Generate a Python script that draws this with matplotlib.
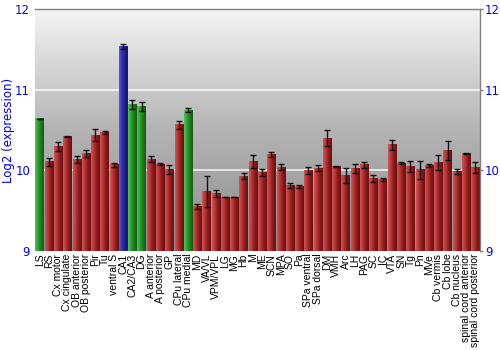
import numpy as np
import matplotlib
matplotlib.use("Agg")
import matplotlib.pyplot as plt
from matplotlib.colors import LinearSegmentedColormap

regions = ["LS", "RS", "Cx motor", "Cx cingulate", "OB anterior", "OB posterior",
           "Pir", "Tu", "ventral S", "CA1", "CA2/CA3", "DG", "A anterior",
           "A posterior", "GP", "CPu lateral", "CPu medial", "MD", "VA/VL",
           "VPM/VPL", "LG", "MG", "Hb", "M", "ME", "SCN", "MPA", "SO", "Pa",
           "SPa ventral", "SPa dorsal", "DM", "VMH", "Arc", "LH", "PAG", "SC",
           "IC", "VTA", "SN", "Tg", "Pn", "MVe", "Cb vermis", "Cb lobe",
           "Cb nucleus", "spinal cord anterior", "spinal cord posterior"]
values = [10.64, 10.11, 10.30, 10.42, 10.14, 10.21, 10.44, 10.47, 10.07,
          11.54, 10.82, 10.79, 10.14, 10.08, 10.01, 10.57, 10.75, 9.55,
          9.74, 9.71, 9.67, 9.67, 9.93, 10.11, 9.97, 10.20, 10.04, 9.81,
          9.80, 10.00, 10.03, 10.40, 10.05, 9.94, 10.02, 10.07, 9.90,
          9.89, 10.32, 10.09, 10.05, 10.01, 10.06, 10.10, 10.25, 9.99,
          10.21, 10.04]
errors = [0.005, 0.05, 0.055, 0.01, 0.045, 0.045, 0.075, 0.015, 0.025,
          0.035, 0.06, 0.055, 0.04, 0.017, 0.06, 0.05, 0.03, 0.035,
          0.19, 0.045, 0.005, 0.005, 0.037, 0.08, 0.045, 0.03, 0.037, 0.03,
          0.022, 0.04, 0.035, 0.1, 0.005, 0.09, 0.055, 0.04, 0.047,
          0.017, 0.06, 0.012, 0.072, 0.11, 0.02, 0.095, 0.115, 0.03,
          0.005, 0.066]
groups = ["g", "r", "r", "r", "r", "r", "r", "r", "r", "b", "g", "g", "r",
          "r", "r", "r", "g"] + ["r"] * 31

# light edge -> dark edge for the cylinder shading
shades = {
    "r": ["#c85a5a", "#b83434", "#8a1a1a", "#6a1010"],
    "g": ["#5cc05c", "#2fa02f", "#1d7a1d", "#145c14"],
    "b": ["#5a5ad8", "#3232b8", "#20208a", "#16166a"],
}
cmaps = {k: LinearSegmentedColormap.from_list(k, v) for k, v in shades.items()}

fig = plt.figure(figsize=(5, 3.5), dpi=100)
ax = fig.add_axes([0.07, 0.283, 0.89, 0.69])

x = np.arange(len(regions))

bg = LinearSegmentedColormap.from_list("bg", ["#8c8c8c", "#b4b4b4", "#f4f4f4"])
ax.imshow(np.linspace(0, 1, 256).reshape(-1, 1), cmap=bg, aspect="auto",
          origin="lower", extent=[0, 1, 0, 1], transform=ax.transAxes, zorder=0)

for yv in [10, 11]:
    ax.axhline(yv, color="white", lw=1.2, alpha=0.85, zorder=1)

w = 0.9
grad = np.linspace(0, 1, 64).reshape(1, -1)
for xi, v, g in zip(x, values, groups):
    ax.imshow(grad, cmap=cmaps[g], aspect="auto", interpolation="bilinear",
              extent=[xi - w / 2, xi + w / 2, 9, v], zorder=2)

ax.errorbar(x, values, yerr=errors, fmt="none", ecolor="#111111",
            elinewidth=1.0, capsize=2, capthick=1.0, zorder=3)

ax.set_xlim(-0.5, len(regions) - 0.5)
ax.set_ylim(9, 12)
ax.set_yticks([9, 10, 11, 12])
ax.tick_params(axis="y", colors="#808080", labelcolor="blue", labelsize=8.5,
               left=False, right=True, labelleft=True, labelright=True,
               length=2, width=1, pad=1.5)
ax.set_xticks(x)
ax.set_xticklabels(regions, rotation=90, fontsize=7.5, family="Liberation Sans")
ax.tick_params(axis="x", length=0, pad=2)
ax.set_ylabel("Log2 (expression)", color="blue", fontsize=8.5)
ax.yaxis.set_label_coords(-0.044, 0.5)

for s in ["left", "bottom"]:
    ax.spines[s].set_visible(False)
for s in ["top", "right"]:
    ax.spines[s].set_color("#808080")
    ax.spines[s].set_linewidth(1)

fig.savefig("out.png", dpi=100)
